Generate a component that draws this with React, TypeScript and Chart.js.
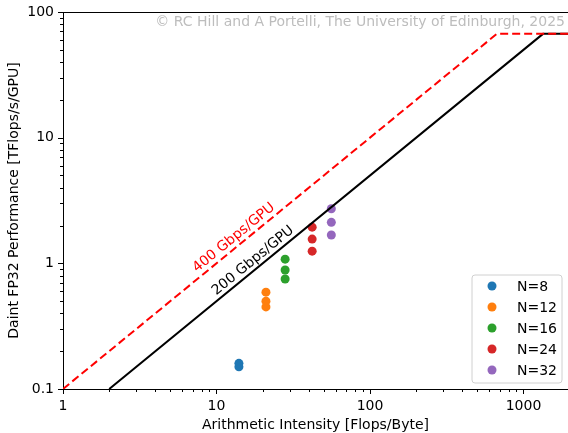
import { useEffect, useRef } from 'react';
import { Chart, registerables } from 'chart.js';
Chart.register(...registerables);

const seriesLabels = ['N=8', 'N=12', 'N=16', 'N=24', 'N=32'];
const seriesColors = ['#1f77b4', '#ff7f0e', '#2ca02c', '#d62728', '#9467bd'];
const intensity = [14, 21, 28, 42, 56];
const perf = [
  [0.15, 0.16],
  [0.45, 0.5, 0.59],
  [0.75, 0.885, 1.08],
  [1.25, 1.56, 1.94],
  [1.68, 2.12, 2.72],
];
const roof400X = [1, 670, 1950];
const roof400Y = [0.1, 67, 67];
const roof200X = [2, 1340, 1950];
const roof200Y = [0.1, 67, 67];
const xTickLabels = [1, 10, 100, 1000];
const yTickLabels = [0.1, 1, 10, 100];
const lineLabels = [
  { text: '400 Gbps/GPU', x: 13.0, y: 1.6, color: '#ff0000', lx: roof400X, ly: roof400Y },
  { text: '200 Gbps/GPU', x: 17.3, y: 1.05, color: '#000000', lx: roof200X, ly: roof200Y },
];
const copyright = '© RC Hill and A Portelli, The University of Edinburgh, 2025';
const xTitle = 'Arithmetic Intensity [Flops/Byte]';
const yTitle = 'Daint FP32 Performance [TFlops/s/GPU]';

const FONT = '"DejaVu Sans", sans-serif';
const FS = 14;

const isDecade = (v: number) => Math.abs(Math.log10(v) - Math.round(Math.log10(v))) < 1e-6;
const isNice = (v: number) => {
  const e = Math.floor(Math.log10(v) + 1e-9);
  const m = v / Math.pow(10, e);
  return Math.abs(m - Math.round(m)) < 1e-6;
};

const overlayPlugin = {
  id: 'overlay',
  afterDraw(chart: any) {
    const ctx = chart.ctx;
    const xs = chart.scales.x;
    const ys = chart.scales.y;
    const ca = chart.chartArea;
    ctx.save();
    ctx.strokeStyle = '#000';
    ctx.lineWidth = 1;
    ctx.beginPath();
    ctx.moveTo(ca.left, ca.top + 0.5);
    ctx.lineTo(ca.right, ca.top + 0.5);
    ctx.stroke();
    const drawTicks = (scale: any, horizontal: boolean) => {
      const vals: number[] = [];
      const e0 = Math.floor(Math.log10(scale.min));
      const e1 = Math.ceil(Math.log10(scale.max));
      for (let e = e0; e <= e1; e++) {
        for (let m = 1; m <= 9; m++) {
          const v = m * Math.pow(10, e);
          if (v >= scale.min * 0.9999 && v <= scale.max * 1.0001 && isNice(v)) vals.push(v);
        }
      }
      vals.forEach((v) => {
        const len = isDecade(v) ? 5 : 3;
        const p = Math.round(scale.getPixelForValue(v)) + 0.5;
        ctx.beginPath();
        if (horizontal) {
          ctx.moveTo(p, ca.bottom);
          ctx.lineTo(p, ca.bottom + len);
        } else {
          ctx.moveTo(ca.left, p);
          ctx.lineTo(ca.left - len, p);
        }
        ctx.stroke();
      });
    };
    drawTicks(xs, true);
    drawTicks(ys, false);

    lineLabels.forEach((l) => {
      const px = xs.getPixelForValue(l.x);
      const py = ys.getPixelForValue(l.y);
      const x1 = xs.getPixelForValue(l.lx[0]);
      const y1 = ys.getPixelForValue(l.ly[0]);
      const x2 = xs.getPixelForValue(l.lx[1]);
      const y2 = ys.getPixelForValue(l.ly[1]);
      const ang = Math.atan2(y2 - y1, x2 - x1);
      ctx.save();
      ctx.translate(px, py);
      ctx.rotate(ang);
      ctx.fillStyle = l.color;
      ctx.font = `${FS}px ${FONT}`;
      ctx.textAlign = 'center';
      ctx.textBaseline = 'middle';
      ctx.fillText(l.text, 0, 0);
      ctx.restore();
    });

    ctx.fillStyle = '#bdbdbd';
    ctx.font = `${FS}px ${FONT}`;
    ctx.textAlign = 'right';
    ctx.textBaseline = 'alphabetic';
    ctx.fillText(copyright, 565, 26);

    ctx.fillStyle = '#000';
    ctx.textAlign = 'center';
    ctx.fillText(xTitle, (ca.left + ca.right) / 2, 429);
    ctx.save();
    ctx.translate(18, (ca.top + ca.bottom) / 2);
    ctx.rotate(-Math.PI / 2);
    ctx.fillText(yTitle, 0, 0);
    ctx.restore();

    const bx = 472, by = 275, bw = 90, bh = 108, r = 3;
    ctx.beginPath();
    ctx.moveTo(bx + r, by);
    ctx.lineTo(bx + bw - r, by);
    ctx.arcTo(bx + bw, by, bx + bw, by + r, r);
    ctx.lineTo(bx + bw, by + bh - r);
    ctx.arcTo(bx + bw, by + bh, bx + bw - r, by + bh, r);
    ctx.lineTo(bx + r, by + bh);
    ctx.arcTo(bx, by + bh, bx, by + bh - r, r);
    ctx.lineTo(bx, by + r);
    ctx.arcTo(bx, by, bx + r, by, r);
    ctx.closePath();
    ctx.fillStyle = 'rgba(255,255,255,0.8)';
    ctx.fill();
    ctx.strokeStyle = '#d0d0d0';
    ctx.stroke();
    const sets = chart.data.datasets.filter((d: any) => d.isSeries);
    sets.forEach((d: any, i: number) => {
      const cy = 286 + i * 21;
      ctx.beginPath();
      ctx.arc(492, cy, 4.5, 0, Math.PI * 2);
      ctx.fillStyle = d.backgroundColor;
      ctx.fill();
      ctx.fillStyle = '#000';
      ctx.textAlign = 'left';
      ctx.textBaseline = 'middle';
      ctx.font = `${FS}px ${FONT}`;
      ctx.fillText(d.label, 517, cy + 1);
    });
    ctx.restore();
  },
};

export default function App() {
  const ref = useRef<HTMLCanvasElement>(null);
  useEffect(() => {
    document.body.style.margin = '0';
    const datasets: any[] = [
      {
        label: '400',
        data: roof400X.map((x, i) => ({ x, y: roof400Y[i] })),
        showLine: true,
        borderColor: '#ff0000',
        borderWidth: 2,
        borderDash: [8, 4],
        pointRadius: 0,
        fill: false,
      },
      {
        label: '200',
        data: roof200X.map((x, i) => ({ x, y: roof200Y[i] })),
        showLine: true,
        borderColor: '#000000',
        borderWidth: 2,
        pointRadius: 0,
        fill: false,
      },
      ...seriesLabels.map((lab, i) => ({
        label: lab,
        isSeries: true,
        data: perf[i].map((y) => ({ x: intensity[i], y })),
        backgroundColor: seriesColors[i],
        borderColor: seriesColors[i],
        pointRadius: 4.5,
        pointBorderWidth: 0,
        showLine: false,
      })),
    ];
    const chart = new Chart(ref.current!, {
      type: 'scatter',
      data: { datasets },
      options: {
        animation: false,
        responsive: false,
        layout: { autoPadding: false, padding: { top: 12, right: 0, left: 0, bottom: 0 } },
        plugins: { legend: { display: false }, tooltip: { enabled: false } },
        scales: {
          x: {
            type: 'logarithmic',
            min: 1,
            max: 1950,
            afterFit: (s: any) => { s.height = 44; s.paddingLeft = 0; s.paddingRight = 0; },
            grid: { display: false, drawTicks: false },
            border: { display: true, color: '#000', width: 1 },
            ticks: {
              autoSkip: false,
              maxRotation: 0,
              padding: 9,
              color: '#000',
              font: { family: FONT, size: FS },
              callback: (v: any) => (xTickLabels.some((t) => Math.abs(t - v) < 1e-9 * t) ? String(v) : ''),
            },
          },
          y: {
            type: 'logarithmic',
            min: 0.1,
            max: 100,
            afterFit: (s: any) => { s.width = 63; s.paddingTop = 0; s.paddingBottom = 0; },
            grid: { display: false, drawTicks: false },
            border: { display: true, color: '#000', width: 1 },
            ticks: {
              autoSkip: false,
              padding: 9,
              color: '#000',
              font: { family: FONT, size: FS },
              callback: (v: any) => (yTickLabels.some((t) => Math.abs(t - v) < 1e-6 * t) ? String(v) : ''),
            },
          },
        },
      },
      plugins: [overlayPlugin],
    });
    return () => chart.destroy();
  }, []);
  return (
    <div style={{ width: 568, height: 433 }}>
      <canvas ref={ref} width={568} height={433} />
    </div>
  );
}
